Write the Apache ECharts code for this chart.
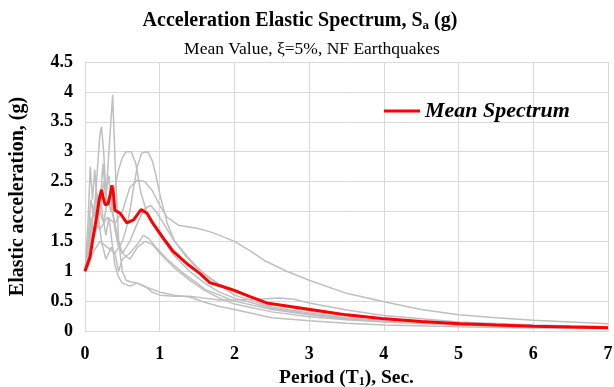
<!DOCTYPE html>
<html><head><meta charset="utf-8">
<script src="https://cdn.jsdelivr.net/npm/echarts@6/dist/echarts.min.js"></script>
<style>html,body{margin:0;padding:0;background:#fff}#c{width:614px;height:387px}</style>
</head><body><div id="c"></div>
<script>
const xTicks = [0,1,2,3,4,5,6,7];
const yTicks = [0,0.5,1,1.5,2,2.5,3,3.5,4,4.5];

const rec1 = [[0,1.0],[0.04,1.3],[0.08,1.9],[0.12,1.6],[0.16,2.3],[0.2,2.1],[0.24,2.8],[0.28,2.2],[0.32,3.0],[0.37,3.95],[0.41,2.6],[0.45,1.5],[0.5,1.0],[0.55,0.85],[0.62,0.82],[0.7,0.8],[0.8,0.74],[0.9,0.7],[1.0,0.65],[1.2,0.6],[1.4,0.57],[1.6,0.48],[1.8,0.41],[2.0,0.36],[2.5,0.22],[3,0.17],[3.5,0.13],[4,0.1],[5,0.07],[6,0.05],[7,0.04]];
const rec2 = [[0,1.0],[0.04,1.5],[0.08,2.2],[0.12,1.9],[0.16,2.6],[0.2,3.3],[0.22,3.42],[0.25,3.0],[0.28,2.3],[0.32,2.6],[0.36,2.0],[0.4,1.8],[0.45,1.5],[0.5,1.3],[0.6,1.2],[0.7,1.4],[0.8,1.5],[0.9,1.45],[1.0,1.3],[1.2,1.05],[1.4,0.85],[1.6,0.68],[1.8,0.55],[2.0,0.45],[2.5,0.32],[3,0.24],[3.5,0.19],[4,0.15],[5,0.1],[6,0.07],[7,0.05]];
const rec3 = [[0,1.0],[0.05,1.2],[0.1,1.5],[0.15,1.7],[0.2,2.0],[0.25,1.8],[0.3,2.2],[0.35,2.0],[0.4,2.4],[0.45,2.7],[0.5,2.9],[0.55,3.0],[0.62,3.0],[0.68,2.8],[0.75,2.3],[0.85,1.9],[1.0,1.6],[1.2,1.25],[1.4,1.0],[1.6,0.8],[1.8,0.65],[2.0,0.55],[2.5,0.38],[3,0.28],[3.5,0.21],[4,0.17],[5,0.11],[6,0.08],[7,0.06]];
const rec4 = [[0,1.0],[0.05,1.1],[0.1,1.3],[0.2,1.5],[0.3,1.4],[0.4,1.3],[0.5,1.5],[0.55,1.7],[0.6,2.0],[0.65,2.4],[0.7,2.75],[0.76,2.98],[0.84,3.0],[0.9,2.85],[0.95,2.6],[1.0,2.3],[1.1,1.8],[1.2,1.5],[1.35,1.25],[1.5,1.05],[1.7,0.85],[2.0,0.6],[2.5,0.4],[3,0.3],[3.5,0.22],[4,0.17],[5,0.11],[6,0.08],[7,0.06]];
const rec5 = [[0,1.0],[0.05,1.3],[0.1,1.6],[0.15,1.8],[0.2,1.7],[0.3,1.9],[0.4,1.8],[0.5,2.0],[0.6,2.4],[0.7,2.52],[0.8,2.5],[0.9,2.35],[1.0,2.1],[1.1,1.9],[1.25,1.77],[1.5,1.72],[1.7,1.65],[2.0,1.5],[2.2,1.35],[2.4,1.18],[2.7,1.0],[3.0,0.85],[3.5,0.63],[4.0,0.49],[4.5,0.36],[5.0,0.27],[5.5,0.22],[6.0,0.18],[6.5,0.15],[7.0,0.12]];
const rec6 = [[0,1.0],[0.04,1.8],[0.07,2.75],[0.1,2.2],[0.13,2.7],[0.17,2.0],[0.22,1.5],[0.28,1.2],[0.35,1.4],[0.4,1.3],[0.45,1.0],[0.5,1.2],[0.6,1.3],[0.7,1.45],[0.78,1.6],[0.85,1.55],[0.95,1.4],[1.1,1.2],[1.3,0.98],[1.5,0.8],[1.6,0.7],[1.8,0.6],[2.0,0.5],[2.5,0.36],[3,0.27],[3.5,0.2],[4,0.16],[5,0.1],[6,0.07],[7,0.05]];
const rec7 = [[0,1.0],[0.05,1.4],[0.1,1.9],[0.15,2.3],[0.2,2.0],[0.25,2.5],[0.3,2.1],[0.35,2.3],[0.4,1.7],[0.45,1.4],[0.5,1.3],[0.6,1.5],[0.7,1.8],[0.8,2.05],[0.88,2.1],[0.95,2.0],[1.05,1.8],[1.2,1.5],[1.4,1.2],[1.6,0.95],[1.8,0.78],[2.0,0.65],[2.5,0.45],[3,0.33],[3.5,0.25],[4,0.2],[5,0.13],[6,0.09],[7,0.07]];
const rec8 = [[0,1.0],[0.04,1.2],[0.08,1.6],[0.12,2.1],[0.16,1.7],[0.2,2.3],[0.24,1.9],[0.28,1.6],[0.32,1.9],[0.36,1.5],[0.4,1.1],[0.45,0.9],[0.5,0.8],[0.6,0.75],[0.7,0.8],[0.8,0.75],[0.9,0.65],[1.0,0.6],[1.2,0.58],[1.4,0.58],[1.6,0.55],[1.8,0.52],[2.0,0.52],[2.3,0.53],[2.6,0.55],[2.8,0.53],[3.0,0.47],[3.5,0.35],[4,0.26],[5,0.15],[6,0.1],[7,0.07]];
const meanSpectrum = [[0,1.0],[0.067,1.24],[0.1,1.5],[0.156,1.91],[0.19,2.2],[0.22,2.36],[0.25,2.2],[0.27,2.11],[0.31,2.13],[0.34,2.3],[0.36,2.44],[0.38,2.3],[0.40,2.02],[0.47,1.97],[0.56,1.81],[0.65,1.86],[0.75,2.03],[0.83,1.97],[0.91,1.80],[1.05,1.55],[1.18,1.33],[1.36,1.13],[1.54,0.96],[1.67,0.81],[1.85,0.74],[2.0,0.68],[2.2,0.58],[2.43,0.47],[2.7,0.42],[3.06,0.35],[3.5,0.27],[3.97,0.21],[4.5,0.16],[5.02,0.12],[5.5,0.1],[6.0,0.08],[6.5,0.065],[7.0,0.055]];

const records = [rec1,rec2,rec3,rec4,rec5,rec6,rec7,rec8];
const serif = '"Liberation Serif","Times New Roman",serif';

const series = records.map((d,i)=>({
  name:'Record '+(i+1), type:'line', data:d, symbol:'none', silent:true,
  lineStyle:{color:'#bfbfbf', width:1.5}, itemStyle:{color:'#bfbfbf'}, z:2
}));
series.push({
  name:'Mean Spectrum', type:'line', data:meanSpectrum, symbol:'none',
  lineStyle:{color:'#ff0000', width:3}, itemStyle:{color:'#ff0000'}, z:5
});

const chart = echarts.init(document.getElementById('c'), null, {renderer:'canvas'});
chart.setOption({
  animation:false,
  backgroundColor:'#fff',
  title:[{
    text:'{a|Acceleration Elastic Spectrum, S}{s|a}{a| (g)}',
    left:295, top:4, textAlign:'center',
    textStyle:{rich:{
      a:{fontFamily:serif, fontWeight:'bold', fontSize:20, color:'#000'},
      s:{fontFamily:serif, fontWeight:'bold', fontSize:13, color:'#000', padding:[10,0,0,0]}
    }}
  },{
    text:'Mean Value, ξ=5%, NF Earthquakes',
    left:307, top:35, textAlign:'center',
    textStyle:{fontFamily:serif, fontWeight:'normal', fontSize:17.5, color:'#000'}
  }],
  legend:{
    data:['Mean Spectrum'], left:379, top:95, itemWidth:36, itemHeight:3, itemGap:5,
    icon:'rect',
    textStyle:{fontFamily:serif, fontWeight:'bold', fontStyle:'italic', fontSize:22, color:'#000'}
  },
  grid:{left:85, right:6, top:62, bottom:56, containLabel:false, outerBoundsMode:'none'},
  xAxis:{
    type:'value', min:xTicks[0], max:xTicks[xTicks.length-1], interval:1,
    name:'{a|Period (T}{s|1}{a|), Sec.}', nameLocation:'middle', nameGap:34,
    nameTextStyle:{rich:{
      a:{fontFamily:serif, fontWeight:'bold', fontSize:19.5, color:'#000'},
      s:{fontFamily:serif, fontWeight:'bold', fontSize:12, color:'#000', padding:[9,0,0,0]}
    }},
    axisLine:{show:true, lineStyle:{color:'#d9d9d9', width:1}},
    axisTick:{show:false},
    axisLabel:{fontFamily:serif, fontWeight:'bold', fontSize:18, color:'#000', margin:14},
    splitLine:{show:true, lineStyle:{color:'#d9d9d9', width:1}}
  },
  yAxis:{
    type:'value', min:yTicks[0], max:yTicks[yTicks.length-1], interval:0.5,
    name:'Elastic acceleration, (g)', nameLocation:'middle', nameGap:57, nameRotate:90,
    nameTextStyle:{fontFamily:serif, fontWeight:'bold', fontSize:20, color:'#000'},
    axisLine:{show:true, lineStyle:{color:'#d9d9d9', width:1}},
    axisTick:{show:false},
    axisLabel:{fontFamily:serif, fontWeight:'bold', fontSize:18, color:'#000', margin:12},
    splitLine:{show:true, lineStyle:{color:'#d9d9d9', width:1}}
  },
  series:series
});
</script></body></html>
